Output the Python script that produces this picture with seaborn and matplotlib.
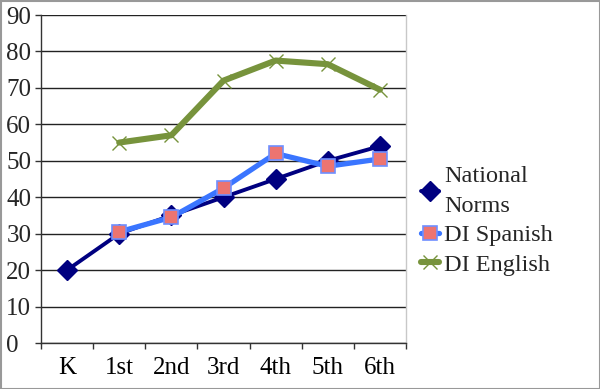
import matplotlib
matplotlib.use("Agg")
import matplotlib.pyplot as plt
import seaborn as sns
import pandas as pd
import numpy as np
from matplotlib.patches import Rectangle
from matplotlib.ticker import FixedLocator

grades = ["K", "1st", "2nd", "3rd", "4th", "5th", "6th"]
national_norms = [20, 30, 35, 40, 45, 50, 54]
di_spanish = [np.nan, 30.5, 34.5, 42.5, 52, 48.5, 50.5]
di_english = [np.nan, 55, 57, 72, 77.5, 76.5, 69.5]
series_names = ["National\nNorms", "DI Spanish", "DI English"]

sns.set_theme(style="white")
plt.rcParams['font.family'] = ['Liberation Serif', 'DejaVu Serif']

df = pd.DataFrame({"grade": grades * 3,
                   "value": national_norms + di_spanish + di_english,
                   "series": [series_names[0]] * 7 + [series_names[1]] * 7 + [series_names[2]] * 7})

fig = plt.figure(figsize=(6.0, 3.89), dpi=100)
ax = fig.add_axes([41/600, 1 - 343/389, (406 - 41)/600, (343 - 15)/389])

styles = {
    series_names[0]: dict(color="#000080", lw=2.8, marker="D", ms=10.5, mfc="#000080", mec="#000080", mew=1),
    series_names[1]: dict(color="#3A75FF", lw=3.8, marker="s", ms=9.5, mfc="#EC7470", mec="#6F8FFF", mew=1.2),
    series_names[2]: dict(color="#77933C", lw=4.4, marker="x", ms=10, mfc="#77933C", mec="#77933C", mew=1.0),
}
for name in series_names:
    sub = df[df["series"] == name].dropna()
    st = styles[name]
    sns.lineplot(data=sub, x="grade", y="value", ax=ax, color=st["color"], linewidth=st["lw"],
                 marker=st["marker"], markersize=st["ms"], markerfacecolor=st["mfc"],
                 markeredgecolor=st["mec"], markeredgewidth=st["mew"], label=name, sort=False)

ax.set_xlim(-0.5, 6.5)
ax.set_ylim(0, 90)
ax.set_yticks(np.arange(0, 91, 10))
ax.yaxis.grid(True, color="#222222", lw=1.0)
ax.set_axisbelow(True)
ax.set_xlabel("")
ax.set_ylabel("")

ax.spines["top"].set_visible(False)
ax.spines["right"].set_color("#C8C8C8")
ax.spines["right"].set_linewidth(1.0)
for s in ["left", "bottom"]:
    ax.spines[s].set_color("#333333")
    ax.spines[s].set_linewidth(1.0)

ax.xaxis.set_minor_locator(FixedLocator(np.arange(-0.5, 7, 1.0)))
ax.tick_params(axis="x", which="major", length=0, pad=10, labelsize=18, colors="black")
ax.tick_params(axis="x", which="minor", length=4, width=1, color="#333333", direction="out", bottom=True)
ax.tick_params(axis="y", which="major", length=4, width=1, color="#333333", direction="out", left=True,
               labelsize=18, pad=21)
for lab in ax.get_yticklabels():
    lab.set_horizontalalignment("left")

leg = ax.legend(loc="center left", bbox_to_anchor=(421/600, 1 - 221/389), bbox_transform=fig.transFigure,
                frameon=False, fontsize=17.5, handlelength=0.75, handletextpad=0.2, labelspacing=0.3,
                borderaxespad=0, borderpad=0)
for t in leg.get_texts():
    t.set_linespacing(1.55)

fig.add_artist(Rectangle((0.5/600, 0.5/389), 599/600, 388/389, transform=fig.transFigure,
                         fill=False, edgecolor="#999999", lw=1.5))

fig.savefig("out.png", dpi=100)
